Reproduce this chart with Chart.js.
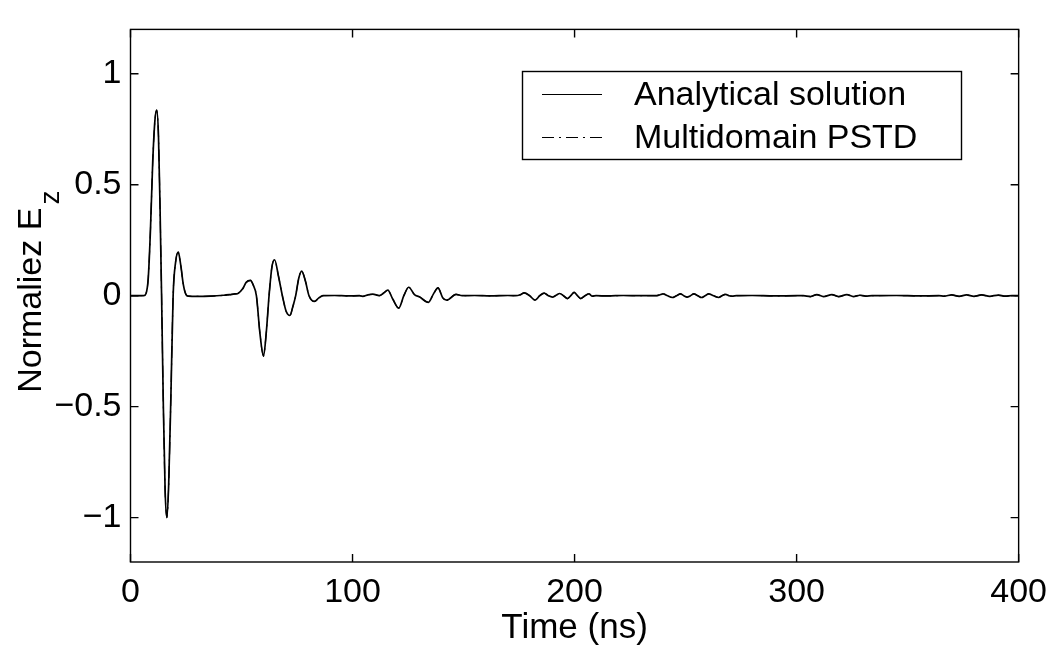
<!DOCTYPE html>
<html>
<head>
<meta charset="utf-8">
<script src="https://cdn.jsdelivr.net/npm/chart.js@4"></script>
<style>
  html, body { margin: 0; padding: 0; background: #fff; }
  #wrap { width: 1057px; height: 652px; }
</style>
</head>
<body>
<div id="wrap"><canvas id="c" width="1057" height="652"></canvas></div>
<script>
// ---- data ----
const timeNs = [
  0, 6, 7, 8, 9, 10, 11, 11.8, 12.6, 13.3, 14, 14.8, 15.6, 16.4, 17.2, 18.2, 19.2, 20.3, 21.5, 22.6, 23.8, 25, 26,
  30, 36, 42, 44.7, 47, 48.4, 50.6, 52.1, 54, 55.2, 56.7, 58.3, 59.9, 61.2, 62.4, 63.7, 64.9, 66.6, 68.4, 70.1, 71.8,
  73.1, 74.4, 75.8, 77.1, 78.8, 80.4, 82.9, 84.8, 86.7, 92, 98, 103.1, 104.6, 107, 109.1, 112.1, 114, 115.9, 118.1,
  120.8, 123.1, 125.3, 127.9, 130.1, 134.2, 136.4, 138.5, 140.6, 142.4, 146.6, 149.4,
  155, 162, 170, 173.5, 175.5, 177.3, 179.8, 182.2, 184.3, 186.3, 188.2, 190, 191.7, 193.3, 195, 196.8, 198.3, 199.8,
  201.3, 202.8, 204.7, 206.5, 208, 209.7, 215, 222, 230, 236.5, 238.2, 239.8, 241.9, 244, 245.9, 247.7, 249.2, 250.7,
  252.2, 253.7, 255.5, 257.2, 258.8, 260.4, 262.6, 264.9, 266.4, 268, 269.5, 270.9, 273, 280, 290, 300,
  303, 306.2, 309.1, 312.1, 315.9, 318.9, 322.6, 325.6, 328.5, 331, 334, 345, 355, 364,
  366.5, 369.8, 373.2, 376.5, 379.9, 383.3, 387, 390.8, 394, 397, 400
];
const analyticalEz = [
  0, 0, 0.01, 0.08, 0.3, 0.6, 0.79, 0.836, 0.72, 0.4, 0, -0.5, -0.88, -1.0, -0.85, -0.45, 0, 0.15, 0.196, 0.14, 0.05, 0.005, -0.002,
  -0.003, -0.002, 0.002, 0.005, 0.008, 0.01, 0.032, 0.06, 0.069, 0.05, 0, -0.17, -0.272, -0.16, 0, 0.13, 0.162, 0.09, 0, -0.07, -0.089,
  -0.05, 0, 0.08, 0.111, 0.065, 0, -0.026, -0.01, 0, 0.001, -0.001, 0, -0.003, 0.004, 0.007, 0, 0.012, 0.025, -0.015,
  -0.056, 0, 0.038, 0.005, -0.005, -0.03, 0.007, 0.035, -0.009, -0.02, 0.006, 0,
  0.001, -0.001, 0.001, 0, 0.004, 0.013, 0, -0.02, 0, 0.012, 0, -0.006, 0.002, 0.01, 0, -0.013, 0, 0.015,
  0, -0.013, 0, 0.008, -0.002, 0, -0.001, 0.001, 0, 0, 0.003, 0.008, 0, -0.008, 0, 0.008, 0, -0.006,
  0, 0.008, 0, -0.008, 0, 0.008, 0, -0.008, 0, 0.006, 0, -0.002, 0, 0.001, -0.001, 0,
  0, -0.004, 0.005, -0.004, 0.005, -0.004, 0.005, -0.004, 0.002, -0.002, 0, 0.001, -0.001, 0,
  -0.002, 0.004, -0.003, 0.004, -0.003, 0.004, -0.003, 0.003, -0.002, 0.001, 0
];
// PSTD result overlays the analytical curve in the reference
const pstdEz = [
  0, 0, 0.01, 0.08, 0.3, 0.6, 0.79, 0.836, 0.72, 0.4, 0, -0.5, -0.88, -1.0, -0.85, -0.45, 0, 0.15, 0.196, 0.14, 0.05, 0.005, -0.002,
  -0.003, -0.002, 0.002, 0.005, 0.008, 0.01, 0.032, 0.06, 0.069, 0.05, 0, -0.17, -0.272, -0.16, 0, 0.13, 0.162, 0.09, 0, -0.07, -0.089,
  -0.05, 0, 0.08, 0.111, 0.065, 0, -0.026, -0.01, 0, 0.001, -0.001, 0, -0.003, 0.004, 0.007, 0, 0.012, 0.025, -0.015,
  -0.056, 0, 0.038, 0.005, -0.005, -0.03, 0.007, 0.035, -0.009, -0.02, 0.006, 0,
  0.001, -0.001, 0.001, 0, 0.004, 0.013, 0, -0.02, 0, 0.012, 0, -0.006, 0.002, 0.01, 0, -0.013, 0, 0.015,
  0, -0.013, 0, 0.008, -0.002, 0, -0.001, 0.001, 0, 0, 0.003, 0.008, 0, -0.008, 0, 0.008, 0, -0.006,
  0, 0.008, 0, -0.008, 0, 0.008, 0, -0.008, 0, 0.006, 0, -0.002, 0, 0.001, -0.001, 0,
  0, -0.004, 0.005, -0.004, 0.005, -0.004, 0.005, -0.004, 0.002, -0.002, 0, 0.001, -0.001, 0,
  -0.002, 0.004, -0.003, 0.004, -0.003, 0.004, -0.003, 0.003, -0.002, 0.001, 0
];
const seriesLabels = ['Analytical solution', 'Multidomain PSTD'];
const xTickValues = [0, 100, 200, 300, 400];
const xTickLabels = ['0', '100', '200', '300', '400'];
const yTickValues = [-1, -0.5, 0, 0.5, 1];
const yTickLabels = ['\u22121', '\u22120.5', '0', '0.5', '1'];
const xTitle = 'Time (ns)';
const yTitleMain = 'Normaliez E';
const yTitleSub = 'z';

const FONT = '"Liberation Sans", Arial, Helvetica, sans-serif';

const toPoints = (ys) => timeNs.map((t, i) => ({ x: t, y: ys[i] }));

const framePlugin = {
  id: 'frame',
  afterDraw(chart) {
    const { ctx, chartArea: a, scales } = chart;
    ctx.save();
    ctx.strokeStyle = '#000';
    ctx.lineWidth = 1.4;
    ctx.strokeRect(a.left, a.top, a.right - a.left, a.bottom - a.top);
    const L = 8;
    ctx.beginPath();
    xTickValues.forEach(v => {
      const px = scales.x.getPixelForValue(v);
      ctx.moveTo(px, a.bottom); ctx.lineTo(px, a.bottom - L);
      ctx.moveTo(px, a.top); ctx.lineTo(px, a.top + L);
    });
    yTickValues.forEach(v => {
      const py = scales.y.getPixelForValue(v);
      ctx.moveTo(a.left, py); ctx.lineTo(a.left + L, py);
      ctx.moveTo(a.right, py); ctx.lineTo(a.right - L, py);
    });
    ctx.stroke();

    // legend box
    const bx = 522.5, by = 71.5, bw = 439, bh = 88;
    ctx.fillStyle = '#fff';
    ctx.fillRect(bx, by, bw, bh);
    ctx.lineWidth = 1.4;
    ctx.strokeRect(bx, by, bw, bh);
    const rows = [94.5, 137.5];
    chart.data.datasets.forEach((ds, i) => {
      const yy = rows[i];
      ctx.beginPath();
      ctx.setLineDash(ds.borderDash || []);
      ctx.lineWidth = 1.2;
      ctx.strokeStyle = '#000';
      ctx.moveTo(542, yy); ctx.lineTo(602, yy);
      ctx.stroke();
      ctx.setLineDash([]);
      ctx.fillStyle = '#000';
      ctx.font = '34px ' + FONT;
      ctx.textAlign = 'left';
      ctx.textBaseline = 'middle';
      ctx.fillText(ds.label, 634, yy + 1);
    });

    // y-axis title with subscript
    ctx.fillStyle = '#000';
    ctx.textBaseline = 'alphabetic';
    ctx.textAlign = 'left';
    ctx.font = '34px ' + FONT;
    const wMain = ctx.measureText(yTitleMain).width;
    ctx.font = '28px ' + FONT;
    const wSub = ctx.measureText(yTitleSub).width;
    const total = wMain + 3 + wSub;
    const cy = (a.top + a.bottom) / 2 - 4;
    ctx.translate(41, cy + total / 2);
    ctx.rotate(-Math.PI / 2);
    ctx.font = '34px ' + FONT;
    ctx.fillText(yTitleMain, 0, 0);
    ctx.font = '28px ' + FONT;
    ctx.fillText(yTitleSub, wMain + 3, 18);
    ctx.restore();
  }
};

new Chart(document.getElementById('c'), {
  type: 'line',
  data: {
    datasets: [
      {
        label: seriesLabels[0],
        data: toPoints(analyticalEz),
        borderColor: '#000',
        borderWidth: 1.7,
        pointRadius: 0,
        cubicInterpolationMode: 'monotone',
        fill: false
      },
      {
        label: seriesLabels[1],
        data: toPoints(pstdEz),
        borderColor: '#000',
        borderWidth: 1.2,
        borderDash: [12, 5, 2, 5],
        pointRadius: 0,
        cubicInterpolationMode: 'monotone',
        fill: false
      }
    ]
  },
  options: {
    responsive: false,
    animation: false,
    events: [],
    layout: { padding: { left: 0, right: 36.5, top: 14, bottom: 0 } },
    plugins: { legend: { display: false }, tooltip: { enabled: false } },
    scales: {
      x: {
        type: 'linear',
        min: 0, max: 400,
        afterBuildTicks: (s) => { s.ticks = xTickValues.map(v => ({ value: v })); },
        afterFit: (s) => { s.height = 90; },
        grid: { display: false, drawTicks: false },
        border: { display: false },
        ticks: {
          color: '#000',
          padding: 10,
          maxRotation: 0,
          font: { family: FONT, size: 34 },
          callback: (v) => xTickLabels[xTickValues.indexOf(v)]
        },
        title: {
          display: true,
          text: xTitle,
          color: '#000',
          font: { family: FONT, size: 35 },
          padding: { top: 0, bottom: 3 }
        }
      },
      y: {
        type: 'linear',
        min: -1.2, max: 1.2,
        afterBuildTicks: (s) => { s.ticks = yTickValues.map(v => ({ value: v })); },
        afterFit: (s) => { s.width = 130.5; },
        grid: { display: false, drawTicks: false },
        border: { display: false },
        ticks: {
          color: '#000',
          padding: 9,
          font: { family: FONT, size: 34 },
          callback: (v) => yTickLabels[yTickValues.indexOf(v)]
        }
      }
    }
  },
  plugins: [framePlugin]
});
</script>
</body>
</html>
